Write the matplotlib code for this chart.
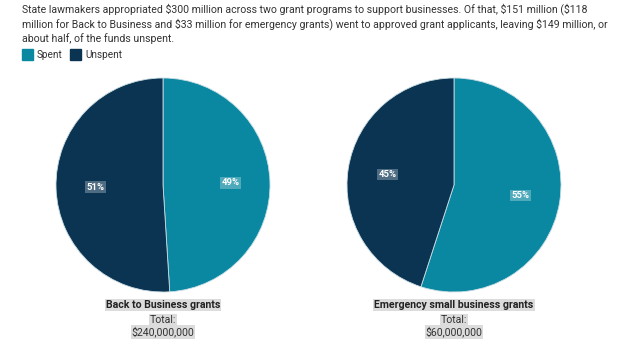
import matplotlib.pyplot as plt

plt.rcParams['font.family'] = ['Roboto', 'DejaVu Sans']

# Data
programs = ['Back to Business grants', 'Emergency small business grants']
totals = ['$240,000,000', '$60,000,000']
spent_pct = [49, 55]
unspent_pct = [51, 45]
legend_labels = ['Spent', 'Unspent']

spent_color = '#0a88a2'
unspent_color = '#0b3452'

title = ("State lawmakers appropriated \\$300 million across two grant programs to support businesses. Of that, \\$151 million (\\$118\n"
         "million for Back to Business and \\$33 million for emergency grants) went to approved grant applicants, leaving \\$149 million, or\n"
         "about half, of the funds unspent.")

fig = plt.figure(figsize=(6.22, 3.52), dpi=100)
fig.text(22 / 622, 1 - 3 / 352, title, ha='left', va='top', fontsize=7.6,
         color='#333333', linespacing=1.35)

# Legend
for i, (lab, col) in enumerate(zip(legend_labels, [spent_color, unspent_color])):
    x0 = [22, 70][i]
    fig.patches.append(plt.Rectangle((x0 / 622, 1 - 60 / 352), 11 / 622, 11 / 352,
                                     transform=fig.transFigure, color=col))
    fig.text((x0 + 15) / 622, 1 - 54.5 / 352, lab, ha='left', va='center',
             fontsize=7.2, color='#333333')

centers = [163, 454]
for i in range(2):
    cx = centers[i]
    ax = fig.add_axes([(cx - 107) / 622, (167 - 107) / 352, 214 / 622, 214 / 352])
    vals = [spent_pct[i], unspent_pct[i]]
    wedges, _ = ax.pie(vals, colors=[spent_color, unspent_color], startangle=90,
                       counterclock=False, radius=1,
                       wedgeprops=dict(linewidth=0.6, edgecolor='#c8dde4'))
    ax.set_xlim(-1, 1)
    ax.set_ylim(-1, 1)
    ax.set_aspect('equal')
    ax.axis('off')
    # percentage labels
    import numpy as np
    start = 90
    for v in vals:
        mid = np.deg2rad(start - v * 3.6 / 2)
        start -= v * 3.6
        ax.text(0.63 * np.cos(mid), 0.63 * np.sin(mid), f'{v}%', ha='center', va='center',
                fontsize=6.8, fontweight='bold', color='white',
                bbox=dict(boxstyle='square,pad=0.12', facecolor='white', alpha=0.28,
                          edgecolor='none'))
    hl = dict(boxstyle='square,pad=0.1', facecolor='#dcdcdc', edgecolor='none')
    fig.text(cx / 622, 1 - 305 / 352, programs[i], ha='center', va='center',
             fontsize=7.6, fontweight='bold', color='#222222', bbox=hl)
    fig.text(cx / 622, 1 - 320 / 352, 'Total:', ha='center', va='center',
             fontsize=7.6, color='#333333', bbox=hl)
    fig.text(cx / 622, 1 - 332 / 352, totals[i].replace('$', '\\$'), ha='center', va='center',
             fontsize=7.6, color='#333333', bbox=hl)

fig.savefig('out.png', dpi=100)
